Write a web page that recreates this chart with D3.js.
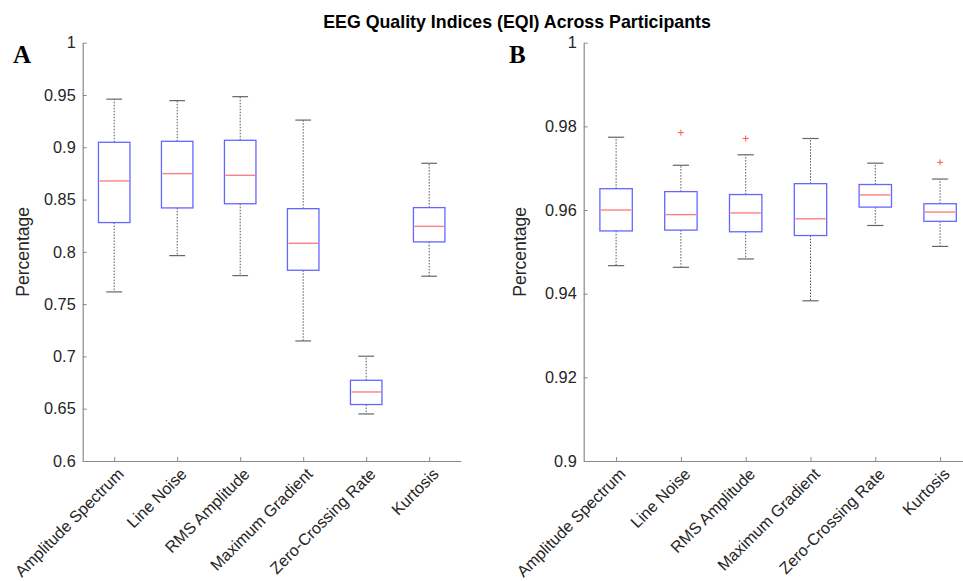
<!DOCTYPE html>
<html>
<head>
<meta charset="utf-8">
<script src="https://cdn.jsdelivr.net/npm/d3@7"></script>
<style>
  html, body { margin: 0; padding: 0; background: #fff; }
  svg { display: block; }
  text { font-family: "Liberation Sans", Arial, Helvetica, sans-serif; }
  text.letter { font-family: "Liberation Serif", "Times New Roman", serif; }
</style>
</head>
<body>
<svg id="chart" width="963" height="581"></svg>
<script>
// Quality index categories
const categories = ["Amplitude Spectrum", "Line Noise", "RMS Amplitude", "Maximum Gradient", "Zero-Crossing Rate", "Kurtosis"];

// Panel A: box statistics per category
const aWhiskerLow  = [0.7617, 0.7964, 0.7773, 0.7148, 0.6450, 0.7767];
const aQ1          = [0.8280, 0.8420, 0.8460, 0.7824, 0.6540, 0.8095];
const aMedian      = [0.8678, 0.8748, 0.8732, 0.8082, 0.6660, 0.8244];
const aQ3          = [0.9048, 0.9057, 0.9067, 0.8413, 0.6772, 0.8423];
const aWhiskerHigh = [0.9460, 0.9446, 0.9484, 0.9260, 0.7002, 0.8847];
const aOutliers    = [[], [], [], [], [], []];
const aTicks       = [0.6, 0.65, 0.7, 0.75, 0.8, 0.85, 0.9, 0.95, 1];

// Panel B: box statistics per category
const bWhiskerLow  = [0.9467, 0.9463, 0.9483, 0.9383, 0.9563, 0.9513];
const bQ1          = [0.9550, 0.9552, 0.9548, 0.9539, 0.9607, 0.9573];
const bMedian      = [0.9600, 0.9589, 0.9593, 0.9579, 0.9636, 0.9595];
const bQ3          = [0.9651, 0.9644, 0.9637, 0.9663, 0.9661, 0.9615];
const bWhiskerHigh = [0.9774, 0.9707, 0.9732, 0.9771, 0.9712, 0.9674];
const bOutliers    = [[], [0.9785], [0.9771], [], [], [0.9714]];
const bTicks       = [0.9, 0.92, 0.94, 0.96, 0.98, 1];

const svg = d3.select("#chart");

svg.append("text")
  .attr("x", 517).attr("y", 28)
  .attr("text-anchor", "middle")
  .attr("font-size", 17.8).attr("font-weight", "bold")
  .attr("fill", "#000")
  .text("EEG Quality Indices (EQI) Across Participants");

function panel(opts) {
  const { left, right, top, bottom, yDomain, ticks, low, q1, med, q3, high, outliers, letter, letterX, ylabelX } = opts;
  const g = svg.append("g");
  const x = d3.scaleLinear().domain([0.5, categories.length + 0.5]).range([left, right]);
  const y = d3.scaleLinear().domain(yDomain).range([bottom, top]);
  const idx = d3.range(categories.length);
  const boxW = 0.5, capW = 0.25;

  // axes
  const yAxis = d3.axisLeft(y).tickValues(ticks).tickSizeInner(-4).tickSizeOuter(0).tickPadding(7)
    .tickFormat(d => String(+d.toFixed(2)));
  const ay = g.append("g").attr("transform", `translate(${left},0)`).call(yAxis);
  const xAxis = d3.axisBottom(x).tickValues(idx.map(i => i + 1)).tickSizeInner(-4).tickSizeOuter(0).tickFormat("");
  const ax = g.append("g").attr("transform", `translate(0,${bottom})`).call(xAxis);
  [ay, ax].forEach(a => {
    a.select(".domain").attr("stroke", "#8a8a8a").attr("stroke-width", 1.2);
    a.selectAll(".tick line").attr("stroke", "#8a8a8a");
  });
  ay.selectAll(".tick text").attr("font-size", 16.3).attr("fill", "#262626");

  // rotated category labels
  g.selectAll("text.cat").data(idx).join("text")
    .attr("class", "cat")
    .attr("transform", i => `translate(${x(i + 1) + 6.5},${bottom + 10}) rotate(-45)`)
    .attr("text-anchor", "end").attr("dy", "0.35em")
    .attr("font-size", 16.2).attr("fill", "#262626")
    .text(i => categories[i]);

  // y label
  g.append("text")
    .attr("transform", `translate(${ylabelX},${(top + bottom) / 2}) rotate(-90)`)
    .attr("text-anchor", "middle").attr("dy", "0.35em")
    .attr("font-size", 17.6).attr("fill", "#262626")
    .text("Percentage");

  // panel letter
  g.append("text")
    .attr("class", "letter")
    .attr("x", letterX).attr("y", 63)
    .attr("font-weight", "bold").attr("font-size", 25).attr("fill", "#000")
    .text(letter);

  // whiskers
  const wh = g.append("g");
  idx.forEach(i => {
    wh.append("line").attr("x1", x(i + 1)).attr("x2", x(i + 1)).attr("y1", y(q3[i])).attr("y2", y(high[i]))
      .attr("stroke", "#555").attr("stroke-width", 1).attr("stroke-dasharray", "1.5,1.5");
    wh.append("line").attr("x1", x(i + 1)).attr("x2", x(i + 1)).attr("y1", y(q1[i])).attr("y2", y(low[i]))
      .attr("stroke", "#555").attr("stroke-width", 1).attr("stroke-dasharray", "1.5,1.5");
    [high[i], low[i]].forEach(v => {
      wh.append("line").attr("x1", x(i + 1 - capW / 2)).attr("x2", x(i + 1 + capW / 2))
        .attr("y1", y(v)).attr("y2", y(v)).attr("stroke", "#666").attr("stroke-width", 1.2);
    });
  });

  // boxes
  g.selectAll("rect.box").data(idx).join("rect")
    .attr("class", "box")
    .attr("x", i => x(i + 1 - boxW / 2)).attr("width", x(1 + boxW) - x(1))
    .attr("y", i => y(q3[i])).attr("height", i => y(q1[i]) - y(q3[i]))
    .attr("fill", "none").attr("stroke", "#6666ff").attr("stroke-width", 1.3);

  // medians
  g.selectAll("line.med").data(idx).join("line")
    .attr("class", "med")
    .attr("x1", i => x(i + 1 - boxW / 2) + 1).attr("x2", i => x(i + 1 + boxW / 2) - 1)
    .attr("y1", i => y(med[i])).attr("y2", i => y(med[i]))
    .attr("stroke", "#ff8080").attr("stroke-width", 1.4);

  // outliers
  idx.forEach(i => {
    outliers[i].forEach(v => {
      const cx = x(i + 1), cy = y(v), s = 3;
      g.append("path").attr("d", `M${cx - s},${cy}H${cx + s}M${cx},${cy - s}V${cy + s}`)
        .attr("stroke", "#ff5555").attr("stroke-width", 1);
    });
  });
}

panel({ left: 82.7, right: 460.7, top: 42.7, bottom: 461, yDomain: [0.6, 1], ticks: aTicks,
  low: aWhiskerLow, q1: aQ1, med: aMedian, q3: aQ3, high: aWhiskerHigh, outliers: aOutliers,
  letter: "A", letterX: 13, ylabelX: 23 });
panel({ left: 583.7, right: 972.5, top: 42.7, bottom: 461, yDomain: [0.9, 1], ticks: bTicks,
  low: bWhiskerLow, q1: bQ1, med: bMedian, q3: bQ3, high: bWhiskerHigh, outliers: bOutliers,
  letter: "B", letterX: 509, ylabelX: 520 });
</script>
</body>
</html>
